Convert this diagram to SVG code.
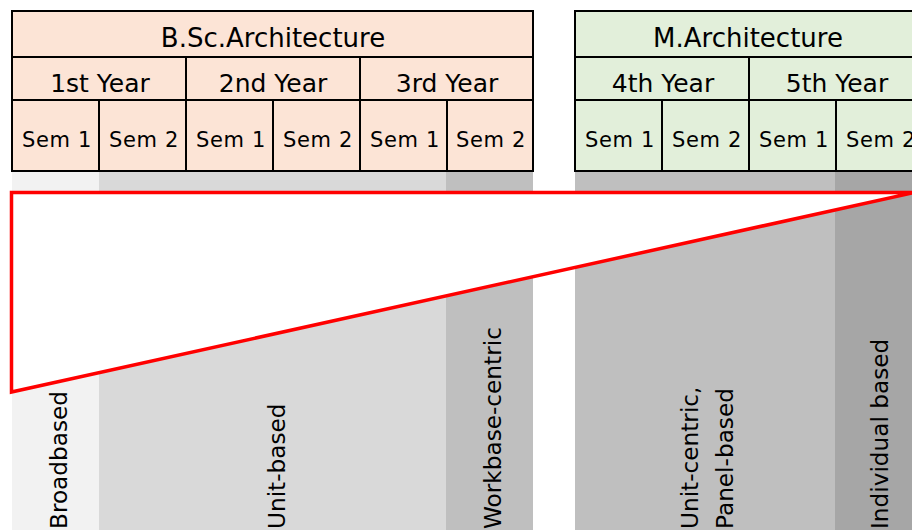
<svg xmlns="http://www.w3.org/2000/svg" width="912" height="530" viewBox="0 0 912 530">
<style>
.t{font-family:"DejaVu Sans","Liberation Sans",sans-serif;fill:#000;text-anchor:middle}
.h{font-size:26px}
.y{font-size:25px}
.s{font-size:21px;letter-spacing:0.7px}
.v{font-family:"DejaVu Sans","Liberation Sans",sans-serif;font-size:23.2px;fill:#000}
.cb{fill:#fce4d6;stroke:#000;stroke-width:2}
.cm{fill:#e2efda;stroke:#000;stroke-width:2}
</style>
<rect width="912" height="530" fill="#fff"/>
<g id="bands">
<rect x="12" y="171" width="87" height="359" fill="#f2f2f2"/>
<rect x="99" y="171" width="347" height="359" fill="#d9d9d9"/>
<rect x="446" y="171" width="87" height="359" fill="#bfbfbf"/>
<rect x="575" y="171" width="260" height="359" fill="#bfbfbf"/>
<rect x="835" y="171" width="90" height="359" fill="#a6a6a6"/>
</g>
<g id="bsc">
<rect class="cb" x="12" y="11" width="521" height="46"/>
<rect class="cb" x="12" y="57" width="174" height="43"/>
<rect class="cb" x="186" y="57" width="174" height="43"/>
<rect class="cb" x="360" y="57" width="173" height="43"/>
<rect class="cb" x="12" y="100" width="87" height="71"/>
<rect class="cb" x="99" y="100" width="87" height="71"/>
<rect class="cb" x="186" y="100" width="87" height="71"/>
<rect class="cb" x="273" y="100" width="87" height="71"/>
<rect class="cb" x="360" y="100" width="87" height="71"/>
<rect class="cb" x="447" y="100" width="86" height="71"/>
<text class="t h" x="273" y="47">B.Sc.Architecture</text>
<text class="t y" x="100" y="92">1st Year</text>
<text class="t y" x="273" y="92">2nd Year</text>
<text class="t y" x="447" y="92">3rd Year</text>
<text class="t s" x="57" y="147">Sem 1</text>
<text class="t s" x="144" y="147">Sem 2</text>
<text class="t s" x="231" y="147">Sem 1</text>
<text class="t s" x="318" y="147">Sem 2</text>
<text class="t s" x="405" y="147">Sem 1</text>
<text class="t s" x="491" y="147">Sem 2</text>
</g>
<g id="march">
<rect class="cm" x="575" y="11" width="350" height="46"/>
<rect class="cm" x="575" y="57" width="174" height="43"/>
<rect class="cm" x="749" y="57" width="176" height="43"/>
<rect class="cm" x="575" y="100" width="87" height="71"/>
<rect class="cm" x="662" y="100" width="87" height="71"/>
<rect class="cm" x="749" y="100" width="87" height="71"/>
<rect class="cm" x="836" y="100" width="89" height="71"/>
<text class="t h" x="748" y="47">M.Architecture</text>
<text class="t y" x="663" y="92">4th Year</text>
<text class="t y" x="837" y="92">5th Year</text>
<text class="t s" x="620" y="147">Sem 1</text>
<text class="t s" x="707" y="147">Sem 2</text>
<text class="t s" x="794" y="147">Sem 1</text>
<text class="t s" x="881" y="147">Sem 2</text>
</g>
<g id="connectors">
<polygon points="11.5,192.5 914,192.5 11.5,392" fill="#fff" stroke="#ff0000" stroke-width="3.5" stroke-linejoin="miter"/>
</g>
<g id="labels">
<text class="v" transform="translate(67,529) rotate(-90)">Broadbased</text>
<text class="v" transform="translate(285,529) rotate(-90)">Unit-based</text>
<text class="v" transform="translate(501,529) rotate(-90)">Workbase-centric</text>
<text class="v" transform="translate(698,529) rotate(-90)">Unit-centric,</text>
<text class="v" transform="translate(733,529) rotate(-90)">Panel-based</text>
<text class="v" transform="translate(888,529) rotate(-90)">Individual based</text>
</g>
</svg>
